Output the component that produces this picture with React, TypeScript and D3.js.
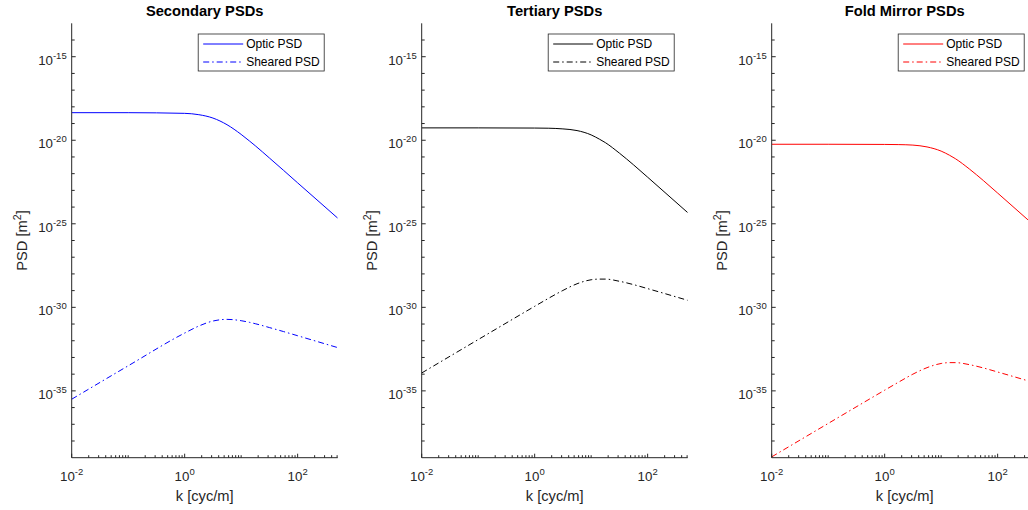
import React from "react";
import * as d3 from "d3";

// spatial frequency samples [cyc/m]
const kValues = [0.01, 0.1, 1, 1.78, 3.16, 5.62, 10, 14.1, 17.8, 31.6, 56.2, 100, 512];

// PSD values given as log10 exponents [m^2]
const secondaryOptic = [-18.35, -18.35, -18.39, -18.47, -18.67, -19.07, -19.65, -20.05, -20.33, -21.06, -21.8, -22.55, -24.66];
const secondarySheared = [-35.5, -33.5, -31.54, -31.12, -30.82, -30.72, -30.8, -30.9, -30.98, -31.21, -31.45, -31.7, -32.41];
const tertiaryOptic = [-19.26, -19.26, -19.27, -19.28, -19.32, -19.42, -19.68, -19.94, -20.14, -20.77, -21.47, -22.21, -24.33];
const tertiarySheared = [-33.93, -31.93, -29.94, -29.45, -28.99, -28.59, -28.35, -28.31, -28.31, -28.44, -28.64, -28.88, -29.58];
const foldOptic = [-20.24, -20.24, -20.25, -20.26, -20.29, -20.4, -20.65, -20.9, -21.1, -21.72, -22.42, -23.16, -25.28];
const foldSheared = [-38.95, -36.95, -34.96, -34.47, -34.0, -33.61, -33.36, -33.31, -33.31, -33.43, -33.63, -33.87, -34.57];

const titles = ["Secondary PSDs", "Tertiary PSDs", "Fold Mirror PSDs"];
const colors = ["#0000ff", "#000000", "#ff0000"];
const seriesNames = ["Optic PSD", "Sheared PSD"];
const xTickLabels = [-2, 0, 2];
const yTickLabels = [-15, -20, -25, -30, -35];
const xDomain: [number, number] = [0.01, 512];
const yDomain: [number, number] = [1e-39, 1e-13];

const panelData = [
  [secondaryOptic, secondarySheared],
  [tertiaryOptic, tertiarySheared],
  [foldOptic, foldSheared],
];

const W = 1028;
const H = 510;
const panelLefts = [71.7, 421.7, 771.7];
const plotW = 266;
const top = 23.3;
const bottom = 457.7;
const axisColor = "#262626";
const font = "'Liberation Sans', Arial, Helvetica, sans-serif";
const dashDot = "6,3,1.5,3";

function Panel({ idx }: { idx: number }) {
  const left = panelLefts[idx];
  const x = d3.scaleLog().domain(xDomain).range([left, left + plotW]);
  const y = d3.scaleLog().domain(yDomain).range([bottom, top]);
  const color = colors[idx];
  const line = d3
    .line<[number, number]>()
    .x((d) => x(d[0]))
    .y((d) => y(d[1]))
    .curve(d3.curveMonotoneX);

  const series = panelData[idx].map((arr) =>
    arr.map((e, i) => [kValues[i], Math.pow(10, e)] as [number, number])
  );

  // x ticks
  const xMinor: number[] = [];
  for (let p = -2; p <= 2; p++) {
    for (let m = 1; m <= 9; m++) {
      const v = m * Math.pow(10, p);
      if (v >= xDomain[0] && v <= xDomain[1]) xMinor.push(v);
    }
  }
  const yMinor: number[] = [];
  for (let p = -38; p <= -14; p++) yMinor.push(Math.pow(10, p));

  const clipId = `clip-${idx}`;
  const cx = left + plotW / 2;
  const legX = left + 126.5;
  const legY = 34;

  return (
    <g>
      <defs>
        <clipPath id={clipId}>
          <rect x={left} y={top} width={plotW} height={bottom - top} />
        </clipPath>
      </defs>
      {/* data */}
      <g clipPath={`url(#${clipId})`}>
        <path d={line(series[0]) || ""} fill="none" stroke={color} strokeWidth={1} />
        <path
          d={line(series[1]) || ""}
          fill="none"
          stroke={color}
          strokeWidth={1}
          strokeDasharray={dashDot}
        />
      </g>
      {/* axes */}
      <line x1={left} x2={left} y1={top} y2={bottom} stroke={axisColor} strokeWidth={1} />
      <line x1={left} x2={left + plotW} y1={bottom} y2={bottom} stroke={axisColor} strokeWidth={1} />
      {xMinor.map((v, i) => {
        const lp = Math.log10(v);
        const isMajor = Math.abs(lp - Math.round(lp)) < 1e-9 && Math.round(lp) % 2 === 0;
        return (
          <line
            key={`xt${i}`}
            x1={x(v)}
            x2={x(v)}
            y1={bottom}
            y2={bottom - (isMajor ? 4 : 2.5)}
            stroke={axisColor}
            strokeWidth={1}
          />
        );
      })}
      {yMinor.map((v, i) => {
        const lp = Math.round(Math.log10(v));
        const isMajor = lp % 5 === 0;
        return (
          <line
            key={`yt${i}`}
            x1={left}
            x2={left + (isMajor ? 4 : 3)}
            y1={y(v)}
            y2={y(v)}
            stroke={axisColor}
            strokeWidth={1}
          />
        );
      })}
      {xTickLabels.map((p) => (
        <text
          key={`xl${p}`}
          x={x(Math.pow(10, p))}
          y={481}
          textAnchor="middle"
          fontSize={13.3}
          fontFamily={font}
          fill={axisColor}
        >
          10
          <tspan fontSize={9.5} dy={-6}>
            {p}
          </tspan>
        </text>
      ))}
      {yTickLabels.map((p) => (
        <text
          key={`yl${p}`}
          x={left - 5}
          y={y(Math.pow(10, p)) + 8}
          textAnchor="end"
          fontSize={13.3}
          fontFamily={font}
          fill={axisColor}
        >
          10
          <tspan fontSize={9.5} dy={-6}>
            {p}
          </tspan>
        </text>
      ))}
      {/* title */}
      <text
        x={cx}
        y={15.5}
        textAnchor="middle"
        fontSize={14.7}
        fontWeight="bold"
        fontFamily={font}
        fill="#000"
      >
        {titles[idx]}
      </text>
      {/* x label */}
      <text x={cx} y={501} textAnchor="middle" fontSize={14.7} fontFamily={font} fill={axisColor}>
        k [cyc/m]
      </text>
      {/* y label */}
      <text
        transform={`translate(${left - 45},${(top + bottom) / 2}) rotate(-90)`}
        textAnchor="middle"
        fontSize={14.7}
        fontFamily={font}
        fill={axisColor}
      >
        PSD [m
        <tspan fontSize={10.5} dy={-6}>
          2
        </tspan>
        <tspan dy={6}>]</tspan>
      </text>
      {/* legend */}
      <rect x={legX} y={legY} width={126} height={37} fill="#fff" stroke={axisColor} strokeWidth={0.8} />
      {seriesNames.map((name, i) => {
        const ly = legY + 10 + i * 18;
        return (
          <g key={name}>
            <line
              x1={legX + 5}
              x2={legX + 45}
              y1={ly}
              y2={ly}
              stroke={color}
              strokeWidth={1}
              strokeDasharray={i === 1 ? dashDot : undefined}
            />
            <text x={legX + 48} y={ly + 4.2} fontSize={12} fontFamily={font} fill="#000">
              {name}
            </text>
          </g>
        );
      })}
    </g>
  );
}

export default function App() {
  return (
    <svg
      width={W}
      height={H}
      viewBox={`0 0 ${W} ${H}`}
      style={{ position: "absolute", left: 0, top: 0, background: "#fff" }}
    >
      <rect x={0} y={0} width={W} height={H} fill="#fff" />
      {[0, 1, 2].map((i) => (
        <Panel key={i} idx={i} />
      ))}
    </svg>
  );
}
